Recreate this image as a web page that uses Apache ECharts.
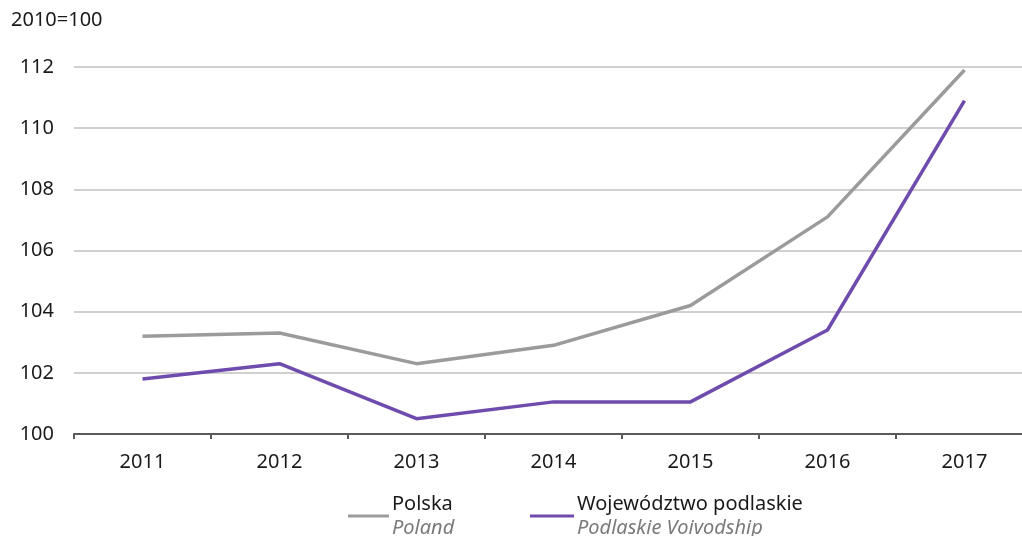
<!DOCTYPE html>
<html>
<head>
<meta charset="utf-8">
<script src="https://cdn.jsdelivr.net/npm/echarts@6/dist/echarts.min.js"></script>
<style>
  html, body { margin: 0; padding: 0; background: #fff; }
  #main { width: 1022px; height: 536px; }
</style>
</head>
<body>
<div id="main"></div>
<script>
var years = ['2011', '2012', '2013', '2014', '2015', '2016', '2017'];
var polska = [103.2, 103.3, 102.3, 102.9, 104.2, 107.1, 111.9];
var podlaskie = [101.8, 102.3, 100.5, 101.05, 101.05, 103.4, 110.9];
var yTicks = { min: 100, max: 112, step: 2 };

var font = 'Noto Sans';
var chart = echarts.init(document.getElementById('main'));

function legendRich() {
  return {
    a: { fontFamily: font, fontSize: 20, color: '#1a1a1a', lineHeight: 24 },
    b: { fontFamily: font, fontSize: 20, color: '#7a7a7a', fontStyle: 'italic', lineHeight: 24 }
  };
}

var option = {
  animation: false,
  title: {
    text: '2010=100',
    left: 6,
    top: 5,
    textStyle: { fontFamily: font, fontSize: 20, fontWeight: 'normal', color: '#1a1a1a' }
  },
  legend: [{
    data: ['Polska'],
    left: 343,
    top: 489,
    icon: 'rect',
    itemWidth: 41,
    itemHeight: 3,
    formatter: function () { return '{a|Polska}\n{b|Poland}'; },
    textStyle: { rich: legendRich(), padding: [0, 0, 0, -2] }
  }, {
    data: ['Województwo podlaskie'],
    left: 525,
    top: 489,
    icon: 'rect',
    itemWidth: 44,
    itemHeight: 3,
    formatter: function () { return '{a|Województwo podlaskie}\n{b|Podlaskie Voivodship}'; },
    textStyle: { rich: legendRich(), padding: [0, 0, 0, -2] }
  }],
  grid: { left: 74, width: 959, top: 67, bottom: 102, containLabel: false, outerBoundsMode: 'none' },
  xAxis: {
    type: 'category',
    data: years,
    boundaryGap: true,
    axisLine: { lineStyle: { color: '#5a5a5a', width: 2 } },
    axisTick: { show: true, length: 5, lineStyle: { color: '#5a5a5a', width: 2 } },
    axisLabel: { fontFamily: font, fontSize: 20, color: '#1a1a1a', margin: 18 }
  },
  yAxis: {
    type: 'value',
    min: yTicks.min,
    max: yTicks.max,
    interval: yTicks.step,
    axisLine: { show: false },
    axisTick: { show: false },
    axisLabel: { fontFamily: font, fontSize: 20, color: '#1a1a1a', margin: 20 },
    splitLine: { lineStyle: { color: '#d0d0d0', width: 2 } }
  },
  series: [{
    name: 'Polska',
    type: 'line',
    data: polska,
    symbol: 'none',
    color: '#9b9b9b',
    lineStyle: { width: 3.5, color: '#9b9b9b' }
  }, {
    name: 'Województwo podlaskie',
    type: 'line',
    data: podlaskie,
    symbol: 'none',
    color: '#6f4bae',
    lineStyle: { width: 3.5, color: '#6f4bae' }
  }]
};

chart.setOption(option);
</script>
</body>
</html>
